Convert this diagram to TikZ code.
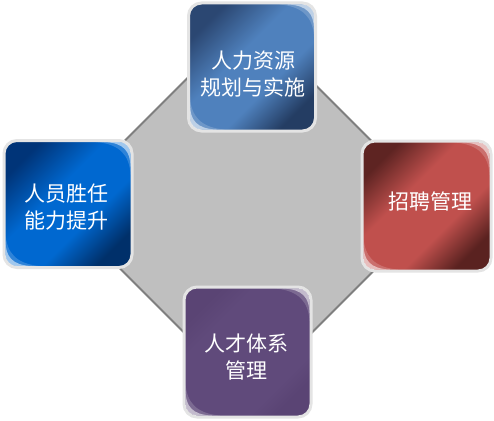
\documentclass[tikz,border=0pt]{standalone}
\usepackage{fontspec}
\newfontfamily\cjk{Noto Sans CJK SC}
\definecolor{octfill}{HTML}{BFBFBF}
\definecolor{octline}{HTML}{7F7F7F}
\definecolor{boxrim}{HTML}{E4E4E4}
\definecolor{tD}{HTML}{2B4772}
\definecolor{tL}{HTML}{4F81BD}
\definecolor{tE}{HTML}{243D63}
\definecolor{lD}{HTML}{003478}
\definecolor{lL}{HTML}{0068D0}
\definecolor{lE}{HTML}{00306A}
\definecolor{rD}{HTML}{5E2422}
\definecolor{rL}{HTML}{C0504D}
\definecolor{rE}{HTML}{5A2220}
\definecolor{pD}{HTML}{5A4474}
\definecolor{pL}{HTML}{604A7B}
\pgfdeclarehorizontalshading{topshade}{100bp}{color(0bp)=(tD); color(25bp)=(tD); color(43bp)=(tL); color(60bp)=(tL); color(75bp)=(tE); color(100bp)=(tE)}
\pgfdeclarehorizontalshading{leftshade}{100bp}{color(0bp)=(lD); color(25bp)=(lD); color(43bp)=(lL); color(60bp)=(lL); color(75bp)=(lE); color(100bp)=(lE)}
\pgfdeclarehorizontalshading{rightshade}{100bp}{color(0bp)=(rD); color(25bp)=(rD); color(41bp)=(rL); color(61bp)=(rL); color(75bp)=(rE); color(100bp)=(rE)}
\pgfdeclarehorizontalshading{botshade}{100bp}{color(0bp)=(pD); color(25bp)=(pD); color(34bp)=(pL); color(68bp)=(pL); color(75bp)=(pD); color(100bp)=(pD)}
\newcommand\glossshape{%
    \fill[white,opacity=.18] (-36,1.5) -- (-13,1.5) .. controls (-6.6,1.5) and (-1.5,6.6) .. (-1.5,13) -- (-1.5,34) .. controls (-2.5,15) and (-12,3.5) .. (-36,1.5) -- cycle;
    \fill[white,opacity=.55] (-28,1.5) -- (-13,1.5) .. controls (-6.6,1.5) and (-1.5,6.6) .. (-1.5,13) -- (-1.5,26) .. controls (-1.8,11) and (-8,2.2) .. (-28,1.5) -- cycle;}
\newcommand\glossTR[1]{%
  \begin{scope}[shift={(#1.north east)}]\glossshape\end{scope}}
\newcommand\glossBL[1]{%
  \begin{scope}[shift={(#1.south west)},rotate=180]\glossshape\end{scope}}
\begin{document}
\begin{tikzpicture}[x=1pt,y=-1pt,
  box/.style={rounded corners=13pt, draw=boxrim, line width=3pt, outer sep=0pt, inner sep=0pt, shading angle=-45},
  lbl/.style={text=white, font=\cjk\fontsize{21}{27}\selectfont, align=center, inner sep=0pt}]
\useasboundingbox (0,0) rectangle (494,420);
\fill[white] (0,0) rectangle (494,420);
% central octagon
\filldraw[fill=octfill, draw=octline, line width=1.8pt, line join=miter]
  (192.5,73) -- (303.5,73) -- (382,151.5) -- (382,262.5) -- (303.5,341) -- (192.5,341) -- (114,262.5) -- (114,151.5) -- cycle;
% boxes
\node[box, shading=topshade, minimum width=127pt, minimum height=128pt] (hr) at (252,67) {};
\node[box, shading=leftshade, minimum width=128pt, minimum height=127pt] (comp) at (68,204) {};
\node[box, shading=rightshade, minimum width=129pt, minimum height=130pt] (recr) at (426.5,206) {};
\node[box, shading=botshade, minimum width=127pt, minimum height=130pt] (talent) at (247.5,352) {};
\glossTR{hr}\glossBL{hr}
\glossTR{comp}\glossBL{comp}
\glossTR{recr}\glossBL{recr}
\glossTR{talent}\glossBL{talent}
% labels
\node[lbl] (hrt) at (253,74) {人力资源\\规划与实施};
\node[lbl] (compt) at (66,207.5) {人员胜任\\能力提升};
\node[lbl] (recrt) at (430,201) {招聘管理};
\node[lbl] (talentt) at (246,357) {人才体系\\管理};
\end{tikzpicture}
\end{document}
